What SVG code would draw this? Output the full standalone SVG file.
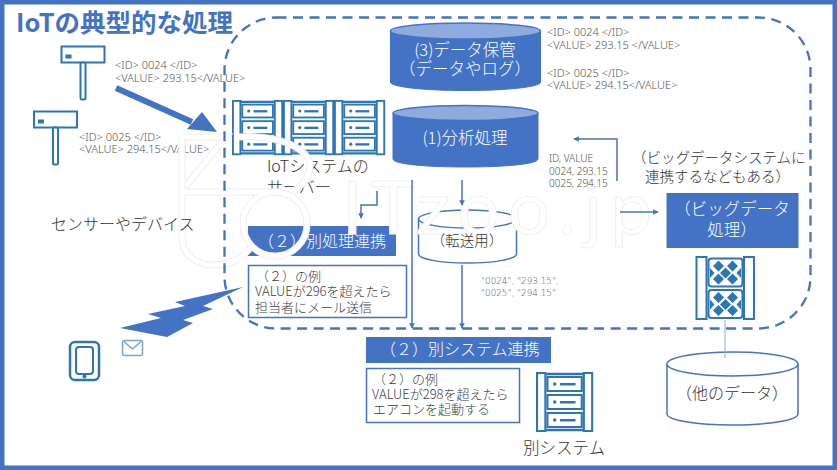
<svg xmlns="http://www.w3.org/2000/svg" width="837" height="470" viewBox="0 0 837 470">
<style>
text{font-family:"Noto Sans CJK JP","Noto Sans",sans-serif;fill:#333;font-weight:300}
.w{fill:#fff;font-size:16.5px}
.m{font-size:13px;fill:#404040}
.l{font-size:16px;fill:#333}
.x{font-family:"Noto Sans",sans-serif;font-size:11px;fill:#555}
.c{text-anchor:middle}
.bf{fill:#4472C4}
.box{fill:#fff;stroke:#4472C4;stroke-width:1.5}
.cf{fill:#4472C4;stroke:#4472C4}
.ct{fill:#8FAADC;stroke:#4472C4;stroke-width:1.5}
.co{fill:#fff;stroke:#4472C4;stroke-width:1.5}
.ln{fill:none;stroke:#4472C4;stroke-width:1.5}
.ic{fill:#fff;stroke:#2E75B6;stroke-width:2}
.id{fill:#2E75B6}
.wm{fill:none;stroke:#fff;stroke-width:5}
.wmb{fill:none;stroke:#eee;stroke-width:7}
</style>
<defs>
<marker id="a" viewBox="0 0 8 8" refX="7" refY="4" markerWidth="5.500" markerHeight="5.500" orient="auto" markerUnits="userSpaceOnUse"><path d="M0 0L8 4L0 8z" fill="#4472C4"/></marker>
<g id="rack">
<rect class="ic" x="1" y="1" width="8" height="58"/>
<rect class="ic" x="46" y="1" width="8" height="58"/>
<path d="M9 2H46M9 58H46" stroke="#2E75B6" stroke-width="2.500"/>
<rect class="ic" x="11" y="5" width="33" height="14"/>
<rect class="ic" x="11" y="23" width="33" height="14"/>
<rect class="ic" x="11" y="41" width="33" height="14"/>
<circle class="id" cx="18" cy="12" r="1.700"/><rect class="id" x="23" y="11" width="15" height="2.500"/>
<circle class="id" cx="18" cy="30" r="1.700"/><rect class="id" x="23" y="29" width="15" height="2.500"/>
<circle class="id" cx="18" cy="48" r="1.700"/><rect class="id" x="23" y="47" width="15" height="2.500"/>
</g>
<g id="diamonds">
<rect class="ic" x="0" y="0" width="34" height="28" rx="3"/>
<path class="id" d="M10 2l5.500 5.500-5.500 5.500-5.500-5.500zM24 2l5.500 5.500-5.500 5.500-5.500-5.500zM17 9l5.500 5.500-5.500 5.500-5.500-5.500zM10 15l5.500 5.500-5.500 5.500-5.500-5.500zM24 15l5.500 5.500-5.500 5.500-5.500-5.500zM1.500 9.500l4.500 5-4.500 5zM32.500 9.500l-4.500 5 4.500 5z"/>
</g>
<g id="sensor">
<rect class="ic" x="1" y="1" width="43" height="16"/>
<rect class="id" x="5" y="9" width="6" height="4"/>
<rect class="ic" x="20" y="17" width="5" height="37" rx="1.500"/>
</g>
</defs>

<rect width="837" height="470" fill="#fff"/>
<rect x="2" y="2" width="833" height="466" fill="none" stroke="#4472C4" stroke-width="5"/>
<text id="title" x="16" y="32" font-size="25.500" style="fill:#4472C4;font-weight:700">IoTの典型的な処理</text>

<g id="sensors">
<use href="#sensor" x="60.500" y="45.500"/>
<use href="#sensor" x="33" y="110.500"/>
</g>
<g id="sensor-data">
<text class="x" x="115" y="69">&lt;ID&gt; 0024 &lt;/ID&gt;</text>
<text class="x" x="115" y="82">&lt;VALUE&gt; 293.15&lt;/VALUE&gt;</text>
<text class="x" x="79" y="141">&lt;ID&gt; 0025 &lt;/ID&gt;</text>
<text class="x" x="79" y="153">&lt;VALUE&gt; 294.15&lt;/VALUE&gt;</text>
</g>

<g id="server">
<use href="#rack" transform="translate(232 100) scale(.93 .92)"/>
<use href="#rack" transform="translate(283 100) scale(.93 .92)"/>
<use href="#rack" transform="translate(334 100) scale(.93 .92)"/>
<text class="l" x="267" y="172">IoTシステムの</text>
<text class="l" x="267" y="193">サーバー</text>
</g>

<g id="storage">
<path class="cf" d="M390.500 31V82C390.500 87 424 90.500 465.500 90.500S540.500 87 540.500 82V31z"/>
<ellipse class="ct" cx="465.500" cy="31" rx="75" ry="8"/>
<text class="w c" x="465" y="56">(3)データ保管</text>
<text class="w c" x="465" y="75">（データやログ）</text>
</g>
<g id="storage-data">
<text class="x" x="547" y="36">&lt;ID&gt; 0024 &lt;/ID&gt;</text>
<text class="x" x="547" y="49">&lt;VALUE&gt; 293.15 &lt;/VALUE&gt;</text>
<text class="x" x="547" y="77">&lt;ID&gt; 0025 &lt;/ID&gt;</text>
<text class="x" x="547" y="89">&lt;VALUE&gt; 294.15&lt;/VALUE&gt;</text>
</g>

<g id="analysis">
<path class="cf" d="M393 113V159C393 164 425 167 465.500 167S538 164 538 159V113z"/>
<ellipse class="ct" cx="465.500" cy="113" rx="72.500" ry="7.500"/>
<text class="w c" x="465" y="144">(1)分析処理</text>
</g>

<g id="transfer">
<path class="co" d="M418.500 219V254C418.500 259 440 263 467.500 263S516.500 259 516.500 254V219"/>
<ellipse class="co" cx="467.500" cy="219" rx="49" ry="9"/>
</g>
<text id="csv-data" style="font-family:'DejaVu Sans',sans-serif;font-size:8.800px;fill:#555"><tspan x="481" y="284">"0024", "293.15",</tspan><tspan x="481" y="296">"0025", "294.15"</tspan></text>

<g id="other-process">
<rect class="bf" x="248" y="226" width="148" height="30"/>
<text class="w" x="258" y="247" style="font-size:16px">（２）別処理連携</text>
</g>
<g id="other-process-note">
<rect class="box" x="248.500" y="265.500" width="158" height="52"/>
<text class="m" x="256" y="281">（２）の例</text>
<text class="m" x="255" y="296">VALUEが296を超えたら</text>
<text class="m" x="255" y="312">担当者にメール送信</text>
</g>

<g id="other-system">
<rect class="bf" x="366" y="337" width="185" height="26"/>
<text class="w" x="380" y="355" style="font-size:16px">（２）別システム連携</text>
</g>
<g id="other-system-note">
<rect class="box" x="366.500" y="368.500" width="153" height="54"/>
<text class="m" x="373" y="384">（２）の例</text>
<text class="m" x="372" y="399">VALUEが298を超えたら</text>
<text class="m" x="373" y="414">エアコンを起動する</text>
</g>
<g id="other-system-server">
<use href="#rack" transform="translate(536 372) scale(1.040 1)"/>
<text class="l c" x="564" y="454" style="font-size:16.500px">別システム</text>
</g>

<g id="bigdata-caption">
<text class="l" x="632" y="163" style="font-size:14.500px">（ビッグデータシステムに</text>
<text class="l" x="645" y="182" style="font-size:14.500px">連携するなどもある）</text>
</g>
<g id="bigdata">
<rect class="bf" x="666.500" y="193" width="132" height="55"/>
<text class="w c" x="732" y="215">（ビッグデータ</text>
<text class="w c" x="732" y="236">処理）</text>
</g>
<g id="bigdata-server">
<rect class="ic" x="696.500" y="257" width="10" height="62"/>
<rect class="ic" x="744" y="257" width="10" height="62"/>
<use href="#diamonds" x="708.500" y="258.500"/>
<use href="#diamonds" x="708.500" y="290"/>
</g>
<g id="other-data">
<path class="co" d="M667 364V414C667 420 696 425 732.500 425S798 420 798 414V364"/>
<ellipse class="co" cx="732.500" cy="364" rx="65.500" ry="12"/>
<text class="l c" x="732" y="399">（他のデータ）</text>
</g>

<g id="phone">
<rect class="ic" x="70" y="342" width="29" height="38" rx="5" style="stroke-width:2.500"/>
<rect class="ic" x="76" y="347" width="17" height="27" rx="3"/>
<circle class="id" cx="84.500" cy="376.500" r="2"/>
</g>
<g id="mail">
<rect x="122.500" y="340.500" width="20" height="15" rx="2" fill="#fff" stroke="#7AA5CF" stroke-width="1.500"/>
<path d="M124 341.500L132.500 349L141 341.500" fill="none" stroke="#7AA5CF" stroke-width="1.500"/>
</g>

<!-- faint site stamp across the middle of the sheet -->
<g id="stamp">
<path class="wmb" d="M182 137H226L186 186M182 192H282M182 137V235C182 255 195 265 214 265C230 265 243 258 250 248M238 137C280 134 310 150 310 165C310 178 302 186 292 192"/>
<circle class="wmb" cx="275" cy="224" r="32"/>
<path class="wm" d="M182 137H226L186 186M182 192H282M182 137V235C182 255 195 265 214 265C230 265 243 258 250 248M238 137C280 134 310 150 310 165C310 178 302 186 292 192"/>
<circle class="wm" cx="275" cy="224" r="32"/>
<text x="342" y="234" textLength="310" lengthAdjust="spacing" style="font-family:Lato,sans-serif;font-weight:400;font-size:74px;fill:#fff;stroke:#f1f1f1;stroke-width:1">ITzoo.jp</text>
</g>

<g id="table-data">
<text class="x" x="549" y="162" style="font-size:10px">ID, VALUE</text>
<text class="x" x="549" y="174.500" style="font-size:10px">0024, 293.15</text>
<text class="x" x="549" y="187" style="font-size:10px">0025, 294.15</text>
</g>
<rect id="boundary" x="224.500" y="17.500" width="586" height="311" rx="52" fill="none" stroke="#4472C4" stroke-width="2.300" stroke-dasharray="10 6.500"/>
<text id="sensors-label" class="l" x="51" y="230">センサーやデバイス</text>
<text id="transfer-label" class="c" x="467" y="246" font-size="14.500">（転送用）</text>

<g id="connectors">
<path d="M116 88L192 122" fill="none" stroke="#4472C4" stroke-width="6"/>
<path class="bf" d="M217 132L187 129L202 112z"/>
<path class="bf" d="M243 287L175 302L185 306L148 314L161 318L120 328L167 337L193 323L183 320L213 309L203 306z"/>
<path class="ln" marker-end="url(#a)" d="M377 191V205H361V218"/>
<path class="ln" marker-end="url(#a)" d="M412 180V328"/>
<path class="ln" marker-end="url(#a)" d="M462 180V205"/>
<path class="ln" marker-end="url(#a)" d="M462 265V328"/>
<path class="ln" marker-end="url(#a)" d="M617 181V139H574"/>
<path class="ln" marker-end="url(#a)" d="M620 212H658"/>
<path d="M725 320V358" stroke="#8FAADC" stroke-width="1"/>
</g>
</svg>
